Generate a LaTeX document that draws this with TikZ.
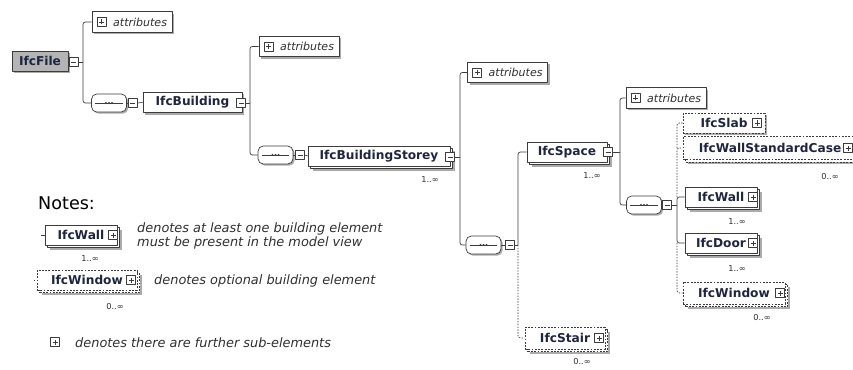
\documentclass[tikz,border=0pt]{standalone}
\usepackage{fontspec}
\setmainfont{DejaVu Sans}
\usetikzlibrary{shapes,shadows}

\definecolor{boxline}{HTML}{3C3C3C}
\definecolor{shade}{HTML}{ABABAB}
\definecolor{rootfill}{HTML}{B4B4B4}
\definecolor{labelink}{HTML}{1E2540}
\definecolor{noteink}{HTML}{303030}

\newcommand{\elemfont}{\bfseries\fontsize{10.4}{12}\selectfont}
\newcommand{\attrfont}{\itshape\fontsize{9.4}{10}\selectfont}
\newcommand{\notefont}{\itshape\fontsize{11}{12.5}\selectfont}
\newcommand{\occfont}{\fontsize{7}{8}\selectfont}

\tikzstyle{elem} = [rectangle, draw=boxline, line width=0.6pt, fill=white,
text=labelink, font=\elemfont, minimum height=0.6cm, inner sep=1pt]
\tikzstyle{single} = [elem, drop shadow={shadow xshift=0.06cm,
shadow yshift=-0.06cm, fill=shade, opacity=1}]
\tikzstyle{multi} = [elem, drop shadow={shadow xshift=0.14cm,
shadow yshift=-0.14cm, fill=shade, opacity=1},
copy shadow={shadow xshift=0.08cm, shadow yshift=-0.08cm, fill=white,
draw=boxline, line width=0.6pt}]
\tikzstyle{optsingle} = [single, dash pattern=on 1.6pt off 1.2pt]
\tikzstyle{optmulti} = [elem, dash pattern=on 1.6pt off 1.2pt,
drop shadow={shadow xshift=0.14cm, shadow yshift=-0.14cm, fill=shade, opacity=1},
copy shadow={shadow xshift=0.08cm, shadow yshift=-0.08cm, fill=white,
draw=boxline, line width=0.6pt, dash pattern=on 1.6pt off 1.2pt}]
\tikzstyle{attr} = [single, font=\attrfont, text=noteink, text width=2.1cm,
align=right, inner xsep=0.15cm, minimum height=0.62cm]
\tikzstyle{seqbox} = [rectangle, rounded corners=4.5pt,
draw=boxline, line width=0.6pt, fill=white, minimum width=1.05cm,
minimum height=0.54cm, inner sep=0pt,
drop shadow={shadow xshift=0.05cm, shadow yshift=-0.05cm, fill=shade, opacity=1}]
\tikzstyle{toggle} = [rectangle, draw=boxline, line width=0.5pt, fill=white,
minimum size=0.27cm, inner sep=0pt]
\tikzstyle{minusbox} = [toggle, path picture={
\draw[boxline, line width=0.6pt] ([xshift=0.06cm]path picture bounding box.west)
-- ([xshift=-0.06cm]path picture bounding box.east);}]
\tikzstyle{plusbox} = [toggle, path picture={
\draw[boxline, line width=0.6pt] ([xshift=0.06cm]path picture bounding box.west)
-- ([xshift=-0.06cm]path picture bounding box.east);
\draw[boxline, line width=0.6pt] ([yshift=-0.06cm]path picture bounding box.north)
-- ([yshift=0.06cm]path picture bounding box.south);}]
\tikzstyle{occ} = [font=\occfont, text=noteink, inner sep=0pt]
\tikzstyle{note} = [font=\notefont, text=noteink, anchor=west, align=left, inner sep=0pt]
\tikzstyle{link} = [draw=boxline, line width=0.6pt, rounded corners=2pt]
\tikzstyle{optlink} = [link, dash pattern=on 1.2pt off 1.2pt]

\begin{document}
\begin{tikzpicture}[x=0.03cm, y=-0.03cm, line join=round]
	\fill[white] (0,0) rectangle (853,369);
	\useasboundingbox (0,0) rectangle (853,369);

	% Place nodes
	\node [single, fill=rootfill, minimum width=1.68cm] (file) at (40,61) {IfcFile};
	\node [minusbox] (fileT) at (73.5,62) {};
	\node [attr] (attr1) at (132,22) {attributes};
	\node [plusbox] (attr1T) at ([xshift=0.3cm]attr1.west) {};
	\node [seqbox] (seq1) at (109,103) {};
	\node [minusbox] (seq1T) at (132.5,103) {};
	\node [single, minimum width=2.97cm] (bldg) at (192.5,102.5) {IfcBuilding};
	\node [minusbox] (bldgT) at (241,103) {};

	\node [attr] (attr2) at (299,46.5) {attributes};
	\node [plusbox] (attr2T) at ([xshift=0.3cm]attr2.west) {};
	\node [seqbox] (seq2) at (275.5,155) {};
	\node [minusbox] (seq2T) at (300,155) {};
	\node [multi, minimum width=4.26cm] (storey) at (379,156) {IfcBuildingStorey};
	\node [minusbox] (storeyT) at (450,157) {};
	\node [occ] (storeyN) at (430,180) {1..∞};

	\node [attr] (attr3) at (507.5,72.5) {attributes};
	\node [plusbox] (attr3T) at ([xshift=0.3cm]attr3.west) {};
	\node [seqbox] (seq3) at (483.5,245) {};
	\node [minusbox] (seq3T) at (510,245) {};
	\node [multi, minimum width=2.4cm] (space) at (567,152) {IfcSpace};
	\node [minusbox] (spaceT) at (608,152) {};
	\node [occ] (spaceN) at (592,176) {1..∞};
	\node [optmulti, minimum width=2.4cm, minimum height=0.66cm] (stair) at (565,338) {IfcStair};
	\node [plusbox] (stairT) at (599,338) {};
	\node [occ] (stairN) at (582,362) {0..∞};

	\node [attr] (attr4) at (666,98) {attributes};
	\node [plusbox] (attr4T) at ([xshift=0.3cm]attr4.west) {};
	\node [seqbox] (seq4) at (644,205) {};
	\node [minusbox] (seq4T) at (667,205) {};
	\node [optsingle, minimum width=2.46cm] (slab) at (724,123) {IfcSlab};
	\node [plusbox] (slabT) at (757,123) {};
	\node [optmulti, minimum width=5.22cm, minimum height=0.68cm] (wsc) at (770,148) {IfcWallStandardCase};
	\node [plusbox] (wscT) at (848,148) {};
	\node [occ] (wscN) at (830,177) {0..∞};
	\node [multi, minimum width=2.16cm] (wall) at (721,197) {IfcWall};
	\node [plusbox] (wallT) at (753,197) {};
	\node [occ] (wallN) at (737,222) {1..∞};
	\node [multi, minimum width=2.16cm] (door) at (721,243) {IfcDoor};
	\node [plusbox] (doorT) at (753,243) {};
	\node [occ] (doorN) at (737,269) {1..∞};
	\node [optmulti, minimum width=3.06cm, minimum height=0.66cm] (window) at (734,293) {IfcWindow};
	\node [plusbox] (windowT) at (780,293) {};
	\node [occ] (windowN) at (762,318) {0..∞};

	% sequence marks
	\foreach \s in {seq1,seq2,seq3,seq4} {
		\draw [boxline, line width=0.6pt] ([xshift=0.12cm]\s.west) -- ([xshift=-0.12cm]\s.east);
		\foreach \dx in {-0.09,0,0.09}
			\fill [boxline] ([xshift=\dx cm]\s.center) circle (0.035cm);
	}

	% Branch lines
	\coordinate (b1) at (83,62);
	\path [link] (fileT.east) -- (b1);
	\path [link] (b1) |- (attr1.west);
	\path [link] (b1) |- (seq1.west);
	\path [link] (seq1.east) -- (seq1T.west);
	\path [link] (seq1T.east) -- (bldg.west);

	\coordinate (b2) at (250,103);
	\path [link] (bldgT.east) -- (b2);
	\path [link] (b2) |- (attr2.west);
	\path [link] (b2) |- (seq2.west);
	\path [link] (seq2.east) -- (seq2T.west);
	\path [link] (seq2T.east) -- (storey.west);

	\coordinate (b3) at (460,157);
	\path [link] (storeyT.east) -- (b3);
	\path [link] (b3) |- (attr3.west);
	\path [link] (b3) |- (seq3.west);
	\path [link] (seq3.east) -- (seq3T.west);
	\coordinate (b4) at (518,245);
	\path [link] (seq3T.east) -- (b4);
	\path [link] (b4) |- (space.west);
	\path [optlink] (b4) |- (stair.west);

	\coordinate (b5) at (620,152);
	\path [link] (spaceT.east) -- (b5);
	\path [link] (b5) |- (attr4.west);
	\path [link] (b5) |- (seq4.west);
	\path [link] (seq4.east) -- (seq4T.west);
	\coordinate (b6) at (677,205);
	\path [link] (seq4T.east) -- (b6);
	\path [link] (b6) |- (wall.west);
	\path [link] (b6) |- (door.west);
	\path [optlink] (b6 |- wall.west) |- (wsc.west);
	\path [optlink] (b6 |- wsc.west) |- (slab.west);
	\path [optlink] (b6 |- door.west) |- (window.west);

	% Notes
	\node [anchor=west, font=\fontsize{15}{18}\selectfont, text=black, inner sep=0pt] (notes) at (38,203) {Notes:};
	\node [multi, minimum width=2.16cm] (keyWall) at (81,235) {IfcWall};
	\node [plusbox] (keyWallT) at (113,235) {};
	\node [occ] (keyWallN) at (90,259) {1..∞};
	\coordinate (keyWallIn) at (41,235);
	\path [link] (keyWallIn) -- (keyWall.west);
	\node [note] (noteWall) at (137,236) {denotes at least one building element\\must be present in the model view};
	\node [optmulti, minimum width=3cm] (keyWin) at (87,280) {IfcWindow};
	\node [plusbox] (keyWinT) at (131,280) {};
	\node [occ] (keyWinN) at (115,307) {0..∞};
	\coordinate (keyWinIn) at (34,280);
	\path [optlink] (keyWinIn) -- (keyWin.west);
	\node [note] (noteWin) at (154,281) {denotes optional building element};
	\node [plusbox] (keyPlus) at (55,342) {};
	\node [note] (notePlus) at (75,343) {denotes there are further sub-elements};
\end{tikzpicture}
\end{document}
